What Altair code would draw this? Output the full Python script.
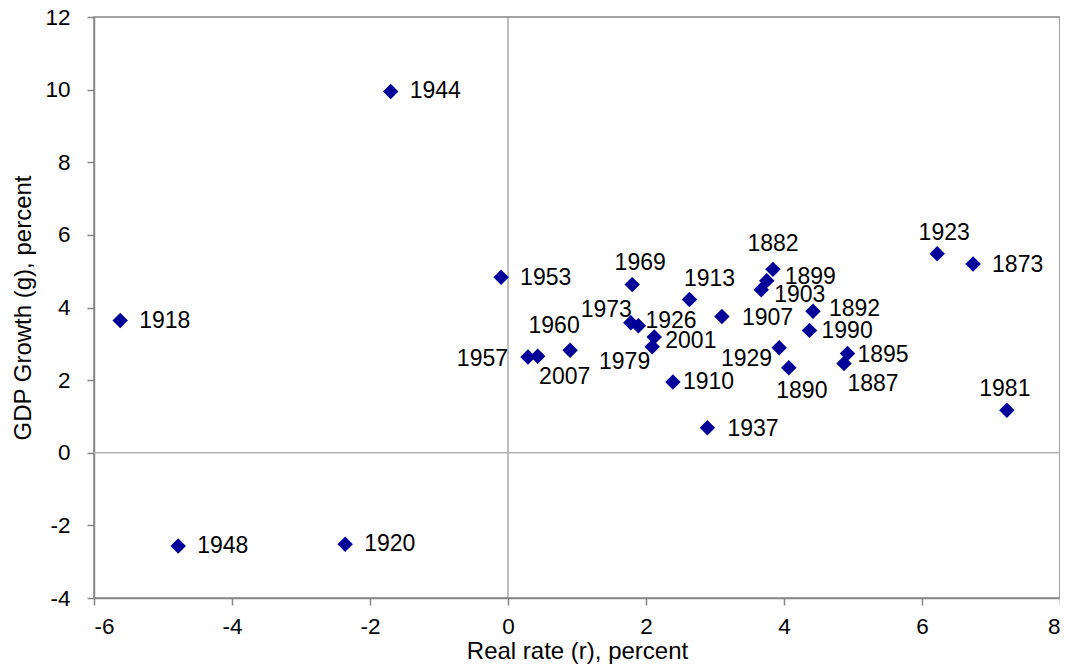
import altair as alt
import pandas as pd

# ---- data ----
years = [1873, 1882, 1887, 1890, 1892, 1895, 1899, 1903, 1907, 1910,
         1913, 1918, 1920, 1923, 1926, 1929, 1937, 1944, 1948, 1953,
         1957, 1960, 1969, 1973, 1979, 1981, 1990, 2001, 2007]
real_rate = [6.74, 3.84, 4.87, 4.07, 4.42, 4.92, 3.75, 3.67, 3.10, 2.39,
             2.63, -5.62, -2.36, 6.22, 1.89, 3.93, 2.89, -1.70, -4.78, -0.10,
             0.29, 0.90, 1.80, 1.78, 2.09, 7.23, 4.37, 2.12, 0.43]
gdp_growth = [5.20, 5.05, 2.46, 2.34, 3.90, 2.73, 4.74, 4.49, 3.75, 1.95,
              4.22, 3.64, -2.52, 5.48, 3.50, 2.89, 0.69, 9.95, -2.57, 4.83,
              2.64, 2.82, 4.63, 3.58, 2.92, 1.17, 3.37, 3.19, 2.66]
x_ticks = [-6, -4, -2, 0, 2, 4, 6, 8]
y_ticks = [-4, -2, 0, 2, 4, 6, 8, 10, 12]

df = pd.DataFrame({"year": years, "r": real_rate, "g": gdp_growth})

# ---- label placement (style only): align, dx, dy in pixels ----
LABEL_STYLE = {
    1944: ("left", 19, 0), 1918: ("left", 19, 0), 1948: ("left", 19, 0),
    1920: ("left", 19, 0), 1953: ("left", 19, 1), 1937: ("left", 20, 1),
    1907: ("left", 20, 1), 1873: ("left", 19, 1), 1899: ("left", 18, -4),
    1892: ("left", 16, -2), 1990: ("left", 12, 1), 1910: ("left", 10, 0),
    1895: ("left", 10, 1), 1903: ("left", 13, 5), 1926: ("left", 7, -5),
    2001: ("left", 11, 4),
    1969: ("center", 8, -22), 1913: ("center", 20, -21), 1882: ("center", 0, -25),
    1923: ("center", 7, -21), 1981: ("center", -2, -21), 1960: ("center", -16, -24),
    2007: ("center", 27, 21), 1890: ("center", 13, 23), 1887: ("center", 29, 21),
    1973: ("right", 1, -13), 1979: ("right", -2, 15), 1957: ("right", -20, 2),
    1929: ("right", -7, 11),
}

FONT = "Liberation Sans, Arial, sans-serif"
LABEL_EXPR = "'' + datum.value"

x_enc = alt.X("r:Q", scale=alt.Scale(domain=[-6, 8], nice=False, zero=False),
              axis=alt.Axis(values=x_ticks, title="Real rate (r), percent",
                            labelExpr=LABEL_EXPR, labelFontSize=22.5, labelPadding=10,
                            titlePadding=2))
y_enc = alt.Y("g:Q", scale=alt.Scale(domain=[-4, 12], nice=False, zero=False),
              axis=alt.Axis(values=y_ticks, title="GDP Growth (g), percent",
                            labelExpr=LABEL_EXPR, labelFontSize=22.5, labelPadding=17,
                            titlePadding=9))

base = alt.Chart(df)

zero_v = alt.Chart(pd.DataFrame({"v": [0]})).mark_rule(
    color="#7f7f7f", strokeWidth=1).encode(x=alt.X("v:Q", scale=alt.Scale(domain=[-6, 8])))
zero_h = alt.Chart(pd.DataFrame({"v": [0]})).mark_rule(
    color="#b3b3b3", strokeWidth=1.5).encode(y=alt.Y("v:Q", scale=alt.Scale(domain=[-4, 12])))

points = base.mark_point(shape="diamond", filled=True, color="#000099",
                         opacity=1, size=240).encode(x=x_enc, y=y_enc)

layers = [zero_v, zero_h, points]
for yr, (align, dx, dy) in LABEL_STYLE.items():
    layers.append(
        base.transform_filter(alt.datum.year == yr)
        .mark_text(align=align, baseline="middle", dx=dx, dy=dy,
                   font=FONT, fontSize=23, color="black")
        .encode(x="r:Q", y="g:Q", text="year:N")
    )

chart = alt.layer(*layers).properties(
    width=966, height=581,
    padding={"left": 86, "top": 9, "right": 0, "bottom": 66},
    autosize=alt.AutoSizeParams(type="none"),
).configure_view(
    stroke="#868686", strokeWidth=1.5
).configure_axis(
    grid=False, domainColor="#868686", domainWidth=1.5,
    tickColor="#868686", tickSize=7, tickWidth=1.5,
    labelFont=FONT, labelFontSize=22.5, labelColor="black",
    titleFont=FONT, titleFontSize=24, titleFontWeight="normal", titleColor="black",
)

chart.save("out.html", embed_options={"renderer": "svg", "actions": False})
